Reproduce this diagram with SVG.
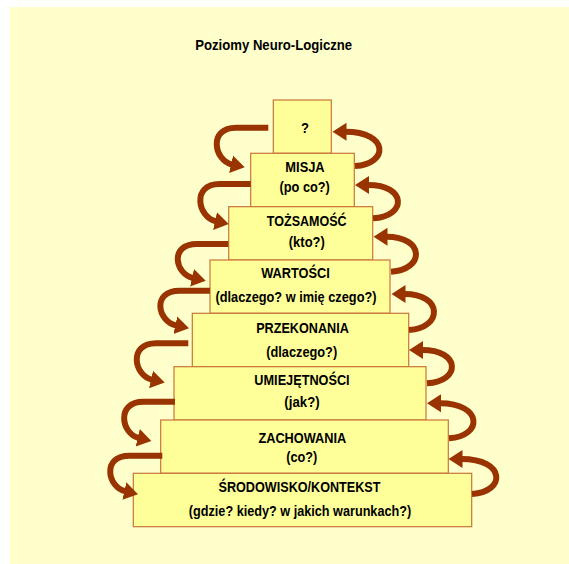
<svg xmlns="http://www.w3.org/2000/svg" width="569" height="564" viewBox="0 0 569 564">
<style>
.bg{fill:#FFFFCC}
.box{fill:#FFFF99;stroke:#C8743A;stroke-width:1.2}
.t{font-family:"Liberation Sans",Arial,sans-serif;font-weight:bold;font-size:15px;fill:#000;text-anchor:middle}
.arr{fill:none;stroke:#993300;stroke-width:6;marker-end:url(#ah)}
</style>
<defs>
<marker id="ah" markerUnits="userSpaceOnUse" viewBox="0 -10 16 20" markerWidth="16" markerHeight="20" refX="1" refY="0" orient="auto">
<path d="M0,-9 L14,0 L0,9 Z" fill="#993300"/>
</marker>
</defs>
<rect class="bg" x="10" y="7" width="559" height="557"/>
<text class="t" x="273.7" y="50" textLength="157" lengthAdjust="spacingAndGlyphs">Poziomy Neuro-Logiczne</text>

<g id="n0"><rect class="box" x="273.3" y="100" width="58" height="53.3"/>
<text class="t" x="305" y="133.3" textLength="8" lengthAdjust="spacingAndGlyphs">?</text></g>
<g id="n1"><rect class="box" x="250.7" y="153.3" width="103.6" height="53.4"/>
<text class="t" x="305" y="171.7" textLength="39.3" lengthAdjust="spacingAndGlyphs">MISJA</text>
<text class="t" x="304.7" y="191.7" textLength="50.3" lengthAdjust="spacingAndGlyphs">(po co?)</text></g>
<g id="n2"><rect class="box" x="228.7" y="206.7" width="144" height="53.3"/>
<text class="t" x="306.7" y="226" textLength="79.7" lengthAdjust="spacingAndGlyphs">TOŻSAMOŚĆ</text>
<text class="t" x="306.8" y="246.7" textLength="36" lengthAdjust="spacingAndGlyphs">(kto?)</text></g>
<g id="n3"><rect class="box" x="210" y="260" width="180" height="53.3"/>
<text class="t" x="295.5" y="278.3" textLength="68.6" lengthAdjust="spacingAndGlyphs">WARTOŚCI</text>
<text class="t" x="296" y="301.7" textLength="161" lengthAdjust="spacingAndGlyphs">(dlaczego? w imię czego?)</text></g>
<g id="n4"><rect class="box" x="192.3" y="313.3" width="216.4" height="53.4"/>
<text class="t" x="302.5" y="333.3" textLength="92.6" lengthAdjust="spacingAndGlyphs">PRZEKONANIA</text>
<text class="t" x="301.7" y="357.3" textLength="71" lengthAdjust="spacingAndGlyphs">(dlaczego?)</text></g>
<g id="n5"><rect class="box" x="174" y="366.7" width="252" height="53.3"/>
<text class="t" x="302" y="385" textLength="95.3" lengthAdjust="spacingAndGlyphs">UMIEJĘTNOŚCI</text>
<text class="t" x="302" y="406.7" textLength="35.3" lengthAdjust="spacingAndGlyphs">(jak?)</text></g>
<g id="n6"><rect class="box" x="160.7" y="420" width="287.6" height="53.3"/>
<text class="t" x="302.3" y="443.3" textLength="87.7" lengthAdjust="spacingAndGlyphs">ZACHOWANIA</text>
<text class="t" x="301.7" y="461.7" textLength="31" lengthAdjust="spacingAndGlyphs">(co?)</text></g>
<g id="n7"><rect class="box" x="133.3" y="473.3" width="338.4" height="53.4"/>
<text class="t" x="299.5" y="491.7" textLength="162" lengthAdjust="spacingAndGlyphs">ŚRODOWISKO/KONTEKST</text>
<text class="t" x="300" y="516" textLength="222.4" lengthAdjust="spacingAndGlyphs">(gdzie? kiedy? w jakich warunkach?)</text></g>

<g id="connectors">
<path class="arr" d="M268.3,127.7 L236,127.7 C208,127.7 214,160.5 232,164.5"/>
<path class="arr" d="M250.7,184 L219.5,184 C191.5,184 197.5,217.3 216,221.3"/>
<path class="arr" d="M228.3,244 L197,244 C169,244 175,274 193,278"/>
<path class="arr" d="M210,290.7 L179.5,290.7 C151.5,290.7 157.5,321.5 176.3,325.5"/>
<path class="arr" d="M188.3,343.3 L156,343.3 C128,343.3 134,375.7 152,379.7"/>
<path class="arr" d="M175,401.7 L143.5,401.7 C115.5,401.7 121.5,434 138.7,438"/>
<path class="arr" d="M162.3,455.7 L129.5,455.7 C101.5,455.7 107.5,487.3 125.3,491.3"/>
<path class="arr" d="M355,166 C389,164 389,131.7 345.5,131.7"/>
<path class="arr" d="M373,218.3 C407,216.3 407,185 368,185"/>
<path class="arr" d="M391,271.7 C425,269.7 425,236.7 386.5,236.7"/>
<path class="arr" d="M409,330 C443,328 443,294 404.5,294"/>
<path class="arr" d="M427,383.3 C461,381.3 461,350 422,350"/>
<path class="arr" d="M449,438.3 C483,436.3 483,403.3 440,403.3"/>
<path class="arr" d="M472,494 C506,492 506,459 461.5,459"/>
</g>
</svg>
